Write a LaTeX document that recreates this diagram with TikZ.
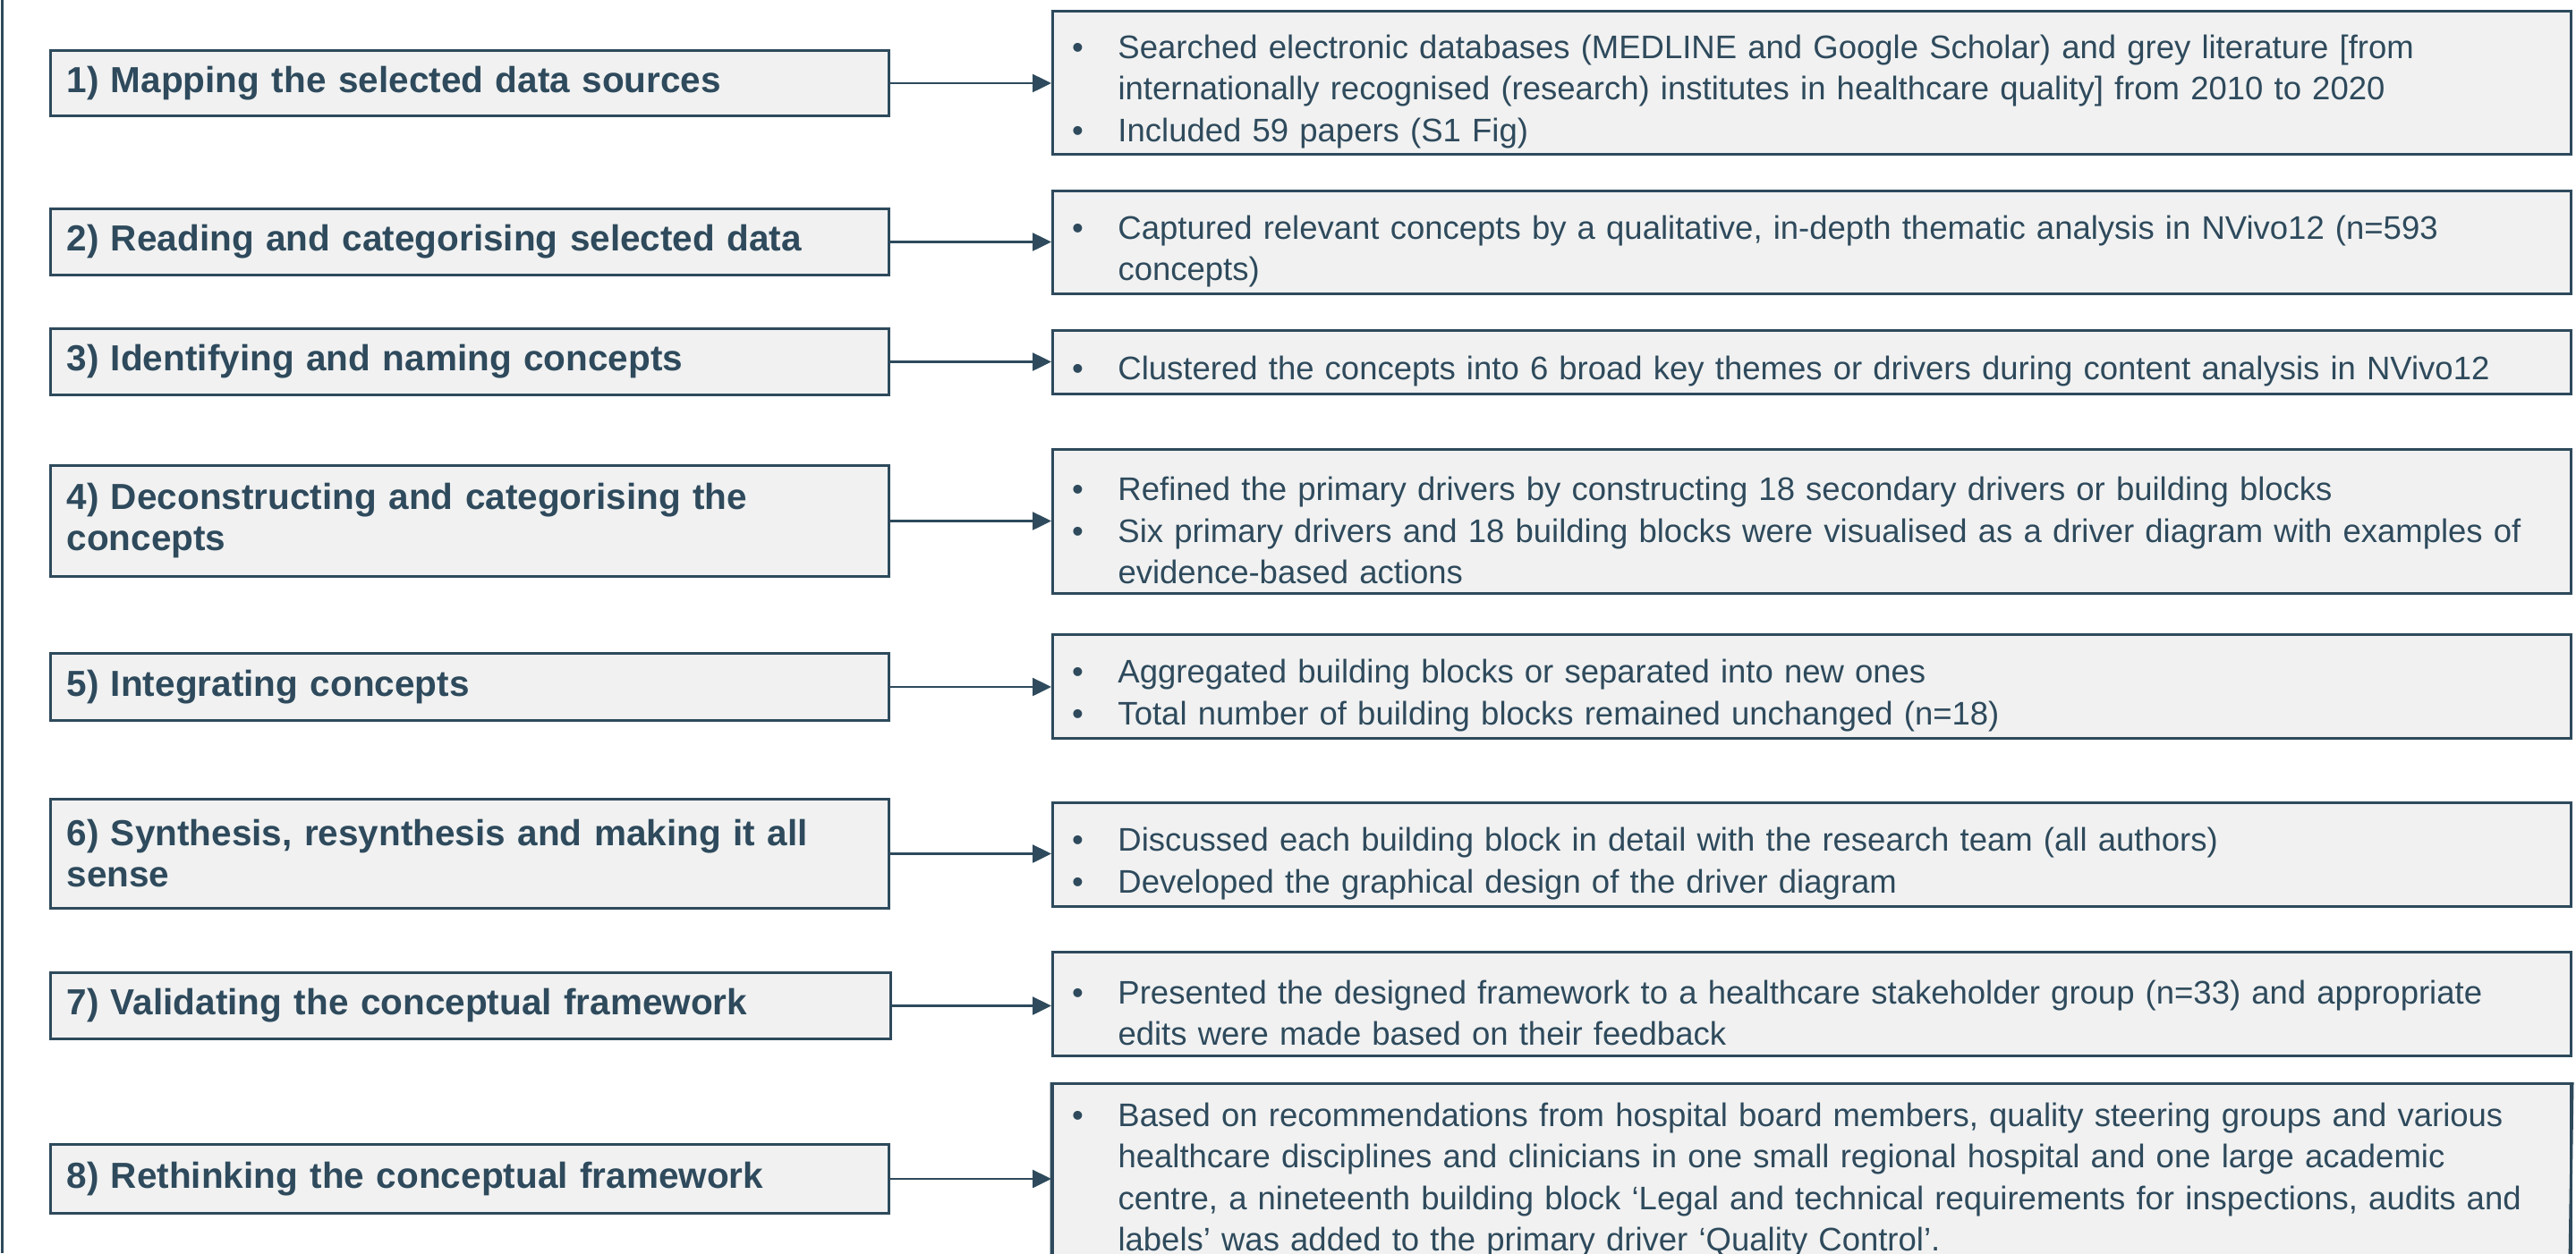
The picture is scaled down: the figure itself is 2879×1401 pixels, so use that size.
\documentclass[tikz,border=0pt]{standalone}
\usepackage{fontspec}
\setmainfont{Liberation Sans}
\usetikzlibrary{arrows.meta}
\definecolor{ink}{HTML}{2E4A5C}
\definecolor{boxfill}{HTML}{F1F1F1}
\newcommand\bitem[1]{\par\hangindent=59.5pt\hangafter=1\noindent\makebox[59.5pt][l]{\hspace{8pt}\textbullet}#1\par}
\begin{document}
\begin{tikzpicture}[x=1pt,y=-1pt,
  lbox/.style={draw=ink, fill=boxfill, line width=3pt, rectangle, anchor=north west,
    minimum width=937pt, text width=901pt, inner xsep=18pt, inner ysep=0pt, align=left,
    font=\fontsize{40.5pt}{46pt}\selectfont\bfseries, text=ink},
  rbox/.style={draw=ink, fill=boxfill, line width=3pt, rectangle, anchor=north west,
    minimum width=1697pt, text width=1670pt, inner xsep=13.5pt, inner ysep=0pt, align=left,
    font=\fontsize{36.5pt}{46.5pt}\selectfont, text=ink},
  arr/.style={draw=ink, line width=2.5pt, -{Triangle[length=21pt,width=20pt]}}]
\useasboundingbox (0,0) rectangle (2879,1401);
\clip (0,0) rectangle (2879,1401);
\fill[white] (0,0) rectangle (2879,1401);
\draw[ink, line width=3pt] (2,0) -- (2,1401);

% left column
\node[lbox, minimum height=73pt]  (l1) at (55,55)   {1) Mapping the selected data sources};
\node[lbox, minimum height=74pt]  (l2) at (55,232)  {2) Reading and categorising selected data};
\node[lbox, minimum height=74pt]  (l3) at (55,366)  {3) Identifying and naming concepts};
\node[lbox, minimum height=124pt] (l4) at (55,519)  {4) Deconstructing and categorising the\newline concepts};
\node[lbox, minimum height=75pt]  (l5) at (55,729)  {5) Integrating concepts};
\node[lbox, minimum height=122pt] (l6) at (55,892)  {6) Synthesis, resynthesis and making it all\newline sense};
\node[lbox, minimum height=74pt, minimum width=939pt, text width=903pt]  (l7) at (55,1086) {7) Validating the conceptual framework};
\node[lbox, minimum height=77pt]  (l8) at (55,1278) {8) Rethinking the conceptual framework};

% right column
\node[rbox, minimum height=160pt] (r1) at (1175,11) {%
\bitem{Searched electronic databases (MEDLINE and Google Scholar) and grey literature [from\newline internationally recognised (research) institutes in healthcare quality] from 2010 to 2020}%
\bitem{Included 59 papers (S1 Fig)}};
\node[rbox, minimum height=115pt] (r2) at (1175,212) {%
\bitem{Captured relevant concepts by a qualitative, in-depth thematic analysis in NVivo12 (n=593\newline concepts)}};
\node[rbox, minimum height=71pt] (r3) at (1175,368) {%
\bitem{Clustered the concepts into 6 broad key themes or drivers during content analysis in NVivo12}};
\node[rbox, minimum height=161pt] (r4) at (1175,501) {%
\bitem{Refined the primary drivers by constructing 18 secondary drivers or building blocks}%
\bitem{Six primary drivers and 18 building blocks were visualised as a driver diagram with examples of\newline evidence-based actions}};
\node[rbox, minimum height=116pt] (r5) at (1175,708) {%
\bitem{Aggregated building blocks or separated into new ones}%
\bitem{Total number of building blocks remained unchanged (n=18)}};
\node[rbox, minimum height=116pt] (r6) at (1175,896) {%
\bitem{Discussed each building block in detail with the research team (all authors)}%
\bitem{Developed the graphical design of the driver diagram}};
\node[rbox, minimum height=116pt] (r7) at (1175,1063) {%
\bitem{Presented the designed framework to a healthcare stakeholder group (n=33) and appropriate\newline edits were made based on their feedback}};
\node[rbox, minimum height=196pt] (r8) at (1175,1210) {%
\bitem{Based on recommendations from hospital board members, quality steering groups and various\newline healthcare disciplines and clinicians in one small regional hospital and one large academic\newline centre, a nineteenth building block ‘Legal and technical requirements for inspections, audits and\newline labels’ was added to the primary driver ‘Quality Control’.}};
\draw[ink, line width=3pt] (r8.north west) -- (1175,1410) (r8.north east) -- (2872,1410);
\fill[boxfill] ([xshift=1.5pt]r8.south west) rectangle (2870.5,1410);

% connectors
\foreach \i in {1,...,8} {
  \draw[arr] (l\i.east) -- (l\i.east -| r\i.west);
}
\end{tikzpicture}
\end{document}
